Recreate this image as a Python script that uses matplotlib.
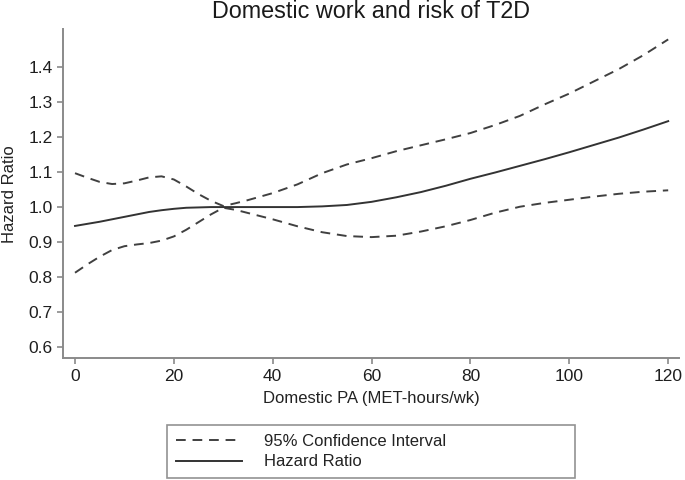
import numpy as np
import matplotlib
matplotlib.use("Agg")
import matplotlib.pyplot as plt

plt.rcParams['font.family'] = ['Liberation Sans', 'DejaVu Sans']

# data
pa = [0, 2.5, 5, 7.5, 10, 12.5, 15, 17.5, 20, 22.5, 25, 27.5, 30, 32.5, 35,
      40, 45, 50, 55, 60, 65, 70, 75, 80, 85, 90, 95, 100, 105, 110, 115, 120]
hr = [0.946, 0.952, 0.958, 0.965, 0.972, 0.979, 0.986, 0.991, 0.995, 0.998, 0.999, 1.000, 1.000, 1.000, 1.000,
      1.000, 1.000, 1.002, 1.006, 1.015, 1.028, 1.043, 1.061, 1.081, 1.099, 1.118, 1.137, 1.157, 1.178, 1.199,
      1.222, 1.246]
ci_upper = [1.097, 1.084, 1.072, 1.066, 1.068, 1.076, 1.085, 1.088, 1.079, 1.059, 1.037, 1.018, 1.003, 1.011, 1.020,
            1.040, 1.065, 1.097, 1.122, 1.140, 1.160, 1.177, 1.194, 1.212, 1.235, 1.261, 1.294, 1.325, 1.360, 1.395,
            1.435, 1.480]
ci_lower = [0.812, 0.836, 0.858, 0.877, 0.888, 0.893, 0.897, 0.904, 0.916, 0.935, 0.957, 0.979, 0.998, 0.992, 0.983,
            0.965, 0.945, 0.928, 0.917, 0.914, 0.918, 0.930, 0.945, 0.963, 0.984, 1.001, 1.012, 1.021, 1.030, 1.038,
            1.044, 1.048]

xticks = [0, 20, 40, 60, 80, 100, 120]
yticks = [0.6, 0.7, 0.8, 0.9, 1.0, 1.1, 1.2, 1.3, 1.4]

fig = plt.figure(figsize=(6.85, 4.8), dpi=100)
ax = fig.add_axes([0.0924, 0.2535, 0.8993, 0.6855])

dash = (5, 3.5)
ax.plot(pa, ci_upper, color='#404040', lw=1.4, dashes=dash, label='95% Confidence Interval')
ax.plot(pa, ci_lower, color='#404040', lw=1.4, dashes=dash)
ax.plot(pa, hr, color='#333333', lw=1.4, label='Hazard Ratio')

ax.set_xlim(-2.37, 122.25)
ax.set_ylim(0.567, 1.509)
ax.set_xticks(xticks)
ax.set_yticks(yticks)
ax.set_yticklabels(['%.1f' % v for v in yticks])

for s in ['top', 'right']:
    ax.spines[s].set_visible(False)
for s in ['left', 'bottom']:
    ax.spines[s].set_color('#8a8a8a')
    ax.spines[s].set_linewidth(1.4)
ax.tick_params(colors='#8a8a8a', labelcolor='#1e1e1e', labelsize=12.5,
               length=4.5, width=1.2, direction='out', pad=3)

ax.set_title('Domestic work and risk of T2D', fontsize=16.8, color='#1a1a1a', pad=8)
ax.set_xlabel('Domestic PA (MET-hours/wk)', fontsize=12, color='#222222', labelpad=5)
ax.set_ylabel('Hazard Ratio', fontsize=12, color='#222222', labelpad=8)

leg = fig.legend(loc='lower left', bbox_to_anchor=(167.3 / 685, 2.3 / 480, (575 - 167.3) / 685, (63.3 - 2.3) / 480),
                 mode='expand', fontsize=12, frameon=True, fancybox=False,
                 handlelength=4.0, handletextpad=1.3, borderpad=0.5, labelspacing=0.35,
                 borderaxespad=0.0)
leg.get_frame().set_edgecolor('#777777')
leg.get_frame().set_linewidth(1.2)
for t in leg.get_texts():
    t.set_color('#222222')

fig.savefig('out.png', dpi=100)
